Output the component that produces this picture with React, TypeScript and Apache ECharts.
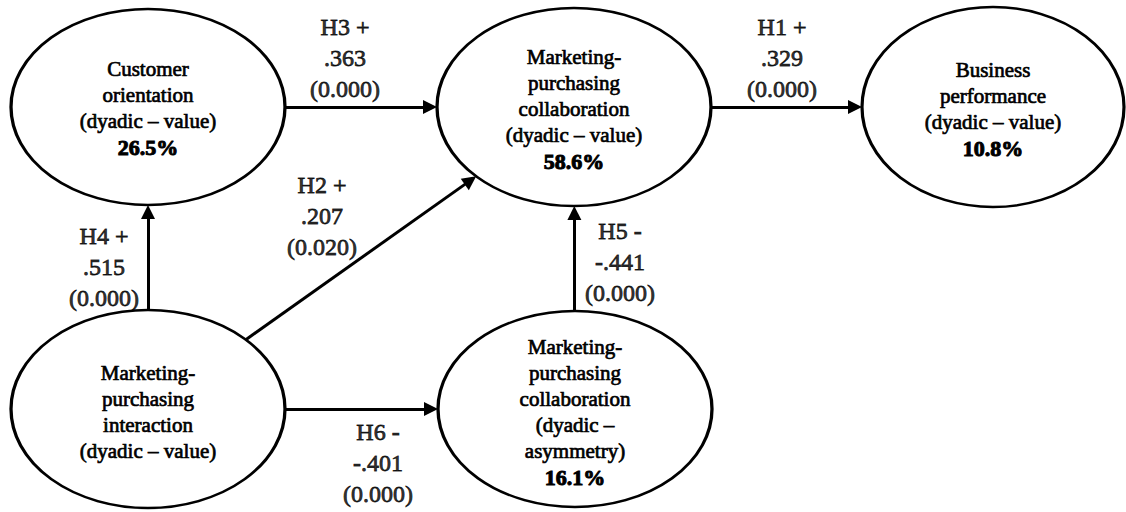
import React, { useEffect, useRef } from "react";
import * as echarts from "echarts";

const W = 1126;
const H = 512;

// ---- constructs (latent variables) ----
const constructIds = ["CO", "MPC", "BP", "MPI", "MPCA"];
const constructLabels = [
  "Customer\norientation\n(dyadic – value)",
  "Marketing-\npurchasing\ncollaboration\n(dyadic – value)",
  "Business\nperformance\n(dyadic – value)",
  "Marketing-\npurchasing\ninteraction\n(dyadic – value)",
  "Marketing-\npurchasing\ncollaboration\n(dyadic –\nasymmetry)",
];
const rSquared = ["26.5%", "58.6%", "10.8%", "", "16.1%"];

// ---- structural paths ----
const hypotheses = ["H1 +", "H2 +", "H3 +", "H4 +", "H5 -", "H6 -"];
const pathFrom = ["MPC", "MPI", "CO", "MPI", "MPCA", "MPI"];
const pathTo = ["BP", "MPC", "MPC", "CO", "MPC", "MPCA"];
const coefficients = [".329", ".207", ".363", ".515", "-.441", "-.401"];
const pValues = ["(0.000)", "(0.020)", "(0.000)", "(0.000)", "(0.000)", "(0.000)"];

// ---- layout (diagram frame, pixels) ----
const nodeX = [148, 574, 993, 148, 575];
const nodeY = [107, 107, 107, 409, 409];
const nodeRx = [137, 137, 131, 137, 137];
const nodeRy = [98, 99, 100, 99, 98];
const textDy = [1, 2, 2, 3, 3];
const labelX = [782, 322, 345, 104, 620, 378];
const labelY = [58, 216, 58, 267, 262, 463];

const ARROW = 14;
const FONT = "'Liberation Serif', 'Times New Roman', serif";
const ELLIPSE_PATH = "path://M0,50 A50,50 0 1,1 100,50 A50,50 0 1,1 0,50 Z";

function edgeCoords(i: number) {
  const a = constructIds.indexOf(pathFrom[i]);
  const b = constructIds.indexOf(pathTo[i]);
  const dx = nodeX[b] - nodeX[a];
  const dy = nodeY[b] - nodeY[a];
  const ta = 1 / Math.sqrt((dx / nodeRx[a]) ** 2 + (dy / nodeRy[a]) ** 2);
  const tb = 1 / Math.sqrt((dx / nodeRx[b]) ** 2 + (dy / nodeRy[b]) ** 2);
  const len = Math.sqrt(dx * dx + dy * dy);
  const back = ARROW / 2 / len;
  return [
    [nodeX[a] + ta * dx, nodeY[a] + ta * dy],
    [nodeX[b] - (tb + back) * dx, nodeY[b] - (tb + back) * dy],
  ];
}

export default function App() {
  const ref = useRef<HTMLDivElement>(null);
  useEffect(() => {
    if (!ref.current) return;
    const chart = echarts.init(ref.current, null, { renderer: "svg" });
    chart.setOption({
      animation: false,
      backgroundColor: "#ffffff",
      grid: { left: 0, right: 0, top: 0, bottom: 0 },
      xAxis: { type: "value", min: 0, max: W, show: false },
      yAxis: { type: "value", min: 0, max: H, inverse: true, show: false },
      series: [
        {
          type: "scatter",
          z: 2,
          symbol: ELLIPSE_PATH,
          data: constructIds.map((id, i) => ({
            name: id,
            value: [nodeX[i], nodeY[i]],
            symbolSize: [nodeRx[i] * 2, nodeRy[i] * 2],
            label: { offset: [0, textDy[i]] },
          })),
          itemStyle: { color: "#ffffff", borderColor: "#000000", borderWidth: 2.8, opacity: 1 },
          label: {
            show: true,
            position: "inside",
            color: "#000000",
            fontFamily: FONT,
            fontSize: 21,
            lineHeight: 26,
            textBorderColor: "#000000",
            textBorderWidth: 0.7,
            align: "center",
            verticalAlign: "middle",
            formatter: (p: any) =>
              constructLabels[p.dataIndex] +
              (rSquared[p.dataIndex] ? "\n{p|" + rSquared[p.dataIndex] + "}" : ""),
            rich: {
              p: {
                fontFamily: FONT,
                fontSize: 22,
                lineHeight: 26,
                fontWeight: "bold",
                color: "#000",
                textBorderColor: "#000000",
                textBorderWidth: 1,
              },
            },
          },
          emphasis: { disabled: true },
        },
        {
          type: "lines",
          coordinateSystem: "cartesian2d",
          z: 3,
          symbol: ["none", "triangle"],
          symbolSize: ARROW,
          lineStyle: { color: "#000000", width: 3, opacity: 1, curveness: 0 },
          data: hypotheses.map((h, i) => ({ name: h, coords: edgeCoords(i) })),
          emphasis: { disabled: true },
        },
        {
          type: "scatter",
          z: 4,
          symbolSize: 0,
          data: hypotheses.map((h, i) => ({ name: h, value: [labelX[i], labelY[i]] })),
          label: {
            show: true,
            position: "inside",
            color: "#000000",
            fontFamily: FONT,
            fontSize: 24,
            lineHeight: 31,
            textBorderColor: "#000000",
            textBorderWidth: 0.8,
            align: "center",
            verticalAlign: "middle",
            formatter: (p: any) =>
              hypotheses[p.dataIndex] + "\n" + coefficients[p.dataIndex] + "\n" + pValues[p.dataIndex],
          },
          emphasis: { disabled: true },
        },
      ],
    });
    return () => chart.dispose();
  }, []);
  return (
    <div
      ref={ref}
      style={{ position: "absolute", left: 0, top: 0, width: W, height: H, background: "#fff" }}
    />
  );
}
